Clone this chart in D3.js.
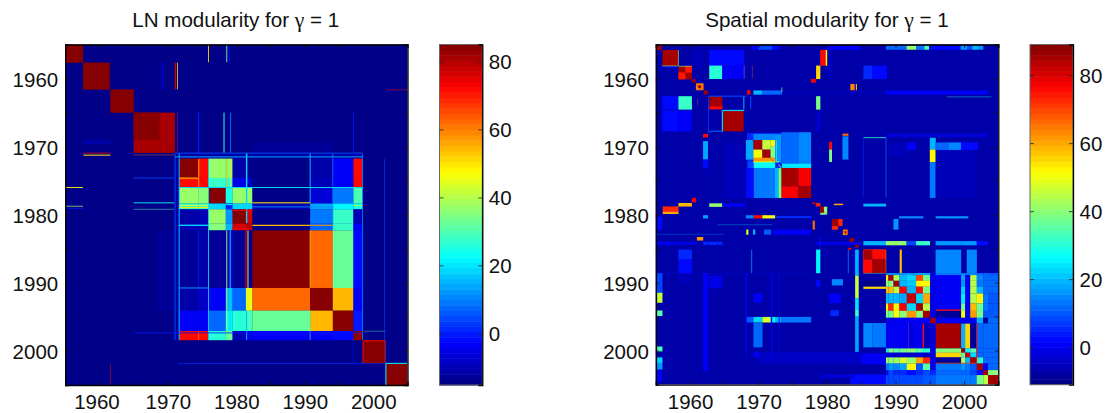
<!DOCTYPE html>
<html><head><meta charset="utf-8">
<script src="https://cdn.jsdelivr.net/npm/d3@7"></script>
<style>html,body{margin:0;padding:0;background:#fff}svg{display:block}text{font-family:"Liberation Sans",Arial,sans-serif;fill:#111}</style>
</head><body><svg id="c" width="1106" height="413"></svg>
<script>
const tickYears=[1960,1965,1970,1975,1980,1985,1990,1995,2000];
const barTicks=[0,20,40,60,80];
const titleLN="LN modularity for ", titleSP="Spatial modularity for ", titleTail=" = 1", gammaSign="γ";
const lnRange=[-15.2,85], spRange=[-11,89];
const lnBackground=-15, spBackground=-7.5;

// LN panel: the large block of communities [x edges, y edges, rows of values]
const lnGridX=[1971.65,1974.5,1975.93,1978.45,1979.45,1981.4,1982.35,1990.78,1994.09,1997.1,1998.43];
const lnGridY=[1971.75,1974.6,1976,1978.35,1979.2,1981.3,1982.3,1990.75,1994.08,1997.07,1998.4];
const lnGrid=[
 [85,72,38,36,-12,-13,-15,-12,-4,72],
 [72,72,28,26,-5,-8,-14,-10,-4,72],
 [38,36,85,24,38,38,-14,-7,9,30],
 [28,28,18,2,18,18,-10,14,22,25],
 [-12,-10,38,12,85,76,-14,9,28,-10],
 [-10,-10,35,15,76,80,-14,8,28,-4],
 [-13,-11,-13,-8,-13,-13,85,62,33,-2],
 [-12,-8,-3,16,8,45,62,85,55,-3],
 [-4,-3,8,22,27,29,33,55,85,-1],
 [72,72,27,32,-10,-5,-3,-4,-2,82]];
// x0,x1,y0,y1,value
const lnBlocks=[
 [1955,1957.6,1955,1957.65,85],[1957.6,1961.6,1957.65,1961.6,85],[1961.6,1965,1961.6,1965,85],
 [1965,1971,1965,1970.9,81],[1965,1968.75,1965,1968.95,85],
 [1998.43,2001.85,1998.4,2001.8,76],[1998.65,2001.75,1998.6,2001.8,85],[2001.85,2005,2001.8,2005,85],
 [1968.75,1969.4,1957.65,1961.6,-11],[1957.65,1961.6,1969,1969.6,-12],
 [1982.35,1994.09,1969.4,1970.9,-13.5],
 [1970.9,1998.43,1970.9,1971.75,-11],[1970.9,1971.65,1971,1998.4,-11],
 [1974.8,1975.6,1974.9,1975.7,85],
 [1968.5,1970.9,1982.3,1994,-13.5]];
// x0,y0,x1,y1,value,width
const lnLines=[
 [1975.93,1955,1975.93,1957.6,52,.9],[1978.6,1955,1978.6,1957.6,33,.9],[1978.95,1955,1978.95,1957.6,-2,1],
 [1971.4,1957.65,1971.4,1961.6,55,.9],[1971.1,1957.65,1971.1,1961.6,78,1.3],
 [1978.2,1965,1978.2,1970.9,28,1],[1979.15,1965,1979.15,1970.9,10,.8],[1974.5,1965,1974.5,1970.9,0,1.2],[1971.4,1965,1971.4,1970.9,70,.4],
 [1955,1976,1957.6,1976,48,.9],[1955,1978.75,1957.6,1978.75,40,.7],[1955,1979.05,1957.6,1979.05,0,.8],
 [1957.65,1970.95,1961.6,1970.95,75,.8],[1957.65,1971.25,1961.6,1971.25,50,1],
 [1965,1978.25,1970.9,1978.25,22,.9],[1965,1974.6,1970.9,1974.6,4,.9],[1965,1979.2,1970.9,1979.2,30,.5],[1965,1971.2,1970.9,1971.2,60,.4],
 [1971.05,1971,1971.05,1998.4,6,.8],[1971.65,1971,1971.65,1998.4,18,.9],
 [1975.93,1971.8,1975.93,1998.4,18,.9],[1974.5,1971.8,1974.5,1976,58,1.1],[1971.65,1974.6,1974.5,1974.6,58,1.1],
 [1974.5,1997.1,1974.5,1998.4,62,1],[1974.5,1982.3,1974.5,1990.7,0,.8],
 [1978.65,1971.8,1978.65,1976,55,.8],[1979.2,1971.8,1979.2,1976,50,.8],[1978.6,1982.3,1978.6,1997.1,40,.9],[1979.1,1982.3,1979.1,1997.1,18,1],
 [1981.5,1971,1981.5,1981.2,18,1.4],[1981.4,1982.3,1981.4,1990.75,72,.9],[1981.7,1982.3,1981.7,1994,50,1],[1981.5,1994.1,1981.5,1998.4,16,1],
 [1990.78,1971,1990.78,1978.3,16,1],[1990.78,1982.3,1990.78,1990.75,54,.9],[1990.78,1994.1,1990.78,1998.4,30,.6],
 [1994.09,1971,1994.09,1982,10,.7],[1997.1,1965,1997.1,1970.9,0,.8],[1997.1,1998.4,1997.1,2001.8,0,.5],[1998.43,1971,1998.43,1998.4,10,.8],
 [1971.65,1976,1998.43,1976,18,1],[1971.65,1990.75,1975.93,1990.75,14,.9],[1971.05,1970.95,1998.43,1970.95,6,.8],[1971.05,1971.5,1998.43,1971.5,16,.9],
 [1971.65,1974.7,1974.5,1974.7,50,.4],[1971.65,1978.65,1975.93,1978.65,42,1],[1971.65,1978.95,1975.93,1978.95,50,1],[1998.43,1978.65,1997.1,1978.65,42,.8],
 [1975.93,1978.5,1979.4,1978.5,18,1.2],[1982.35,1978.25,1990.78,1978.25,48,1],[1982.35,1978.85,1994.09,1978.85,12,.9],
 [1971.65,1981.55,1975.93,1981.55,18,1.4],[1982.35,1981.55,1990.78,1981.55,54,1.3],[1990.78,1981.55,1994.09,1981.55,58,1],
 [1979.45,1979.35,1982.35,1979.35,72,.9],[1979.45,1982.1,1982.35,1982.1,74,1.4],
 [1965,1997.35,1998.4,1997.35,0,.8],[1971.5,2001.85,2001.85,2001.85,2,.7],[1998.6,1997.1,2001.8,1997.1,30,.4],
 [2001.85,2001.82,2005,2001.82,22,1],[2001.85,2001.82,2001.85,2005,22,1],[1961.6,2001.9,1961.6,2005,72,.5],[2001.85,1961.65,2005,1961.65,72,.5],
 [2001.65,1971.8,2001.65,2001.8,4,.6],[1961.55,1957.65,1961.55,1961.6,-14,1]];

// Spatial panel: lower right group of communities
const spGridX=[1988.6,1988.95,1989.7,1990.56,1991.64,1993,1994,1995.05,1995.87,1999.57,2000.16,2000.9,2001.85,2002.8,2003.5,2005];
const spGridY=[1988.6,1988.9,1989.73,1990.6,1991.6,1993.06,1994.15,1995.17,1996,1999.68,2000.3,2001,2001.9,2002.87,2003.6,2005];
const spGrid=[
 [14,17,15,16,16,18,18,0,13,14,13,14,11,11,10],
 [52,85,45,20,23,70,38,-1,1,18,0,45,14,11,11],
 [40,40,85,20,21,52,52,-1,1,16,0,45,13,11,11],
 [58,58,45,75,20,75,38,-1,1,22,0,45,20,12,11],
 [20,20,20,18,82,22,60,-1,1,25,0,45,52,13,10],
 [52,72,52,78,22,85,45,-1,1,38,0,58,36,13,10],
 [38,38,50,40,62,40,85,-1,-9,50,1,62,38,10,10],
 [-1,-1,0,0,0,0,0,85,0,1,1,1,18,-9,11],
 [0,0,0,0,-1,1,-6,-2,85,20,55,-8,11,11,11],
 [25,40,35,38,40,35,30,-1,40,85,25,35,11,11,11],
 [-4,-1,-4,-2,-4,-2,-4,-1,55,35,80,22,11,11,11],
 [42,42,42,48,42,60,72,-1,-9,45,20,85,30,11,11],
 [13,17,15,18,52,10,35,-1,13,17,13,10,85,0,11],
 [2,8,5,5,2,5,8,5,11,12,11,9,3,85,40],
 [9,9,9,9,9,9,10,10,13,13,13,13,38,45,85]];
const spBlocks=[
 // diagonal
 [1955.15,1955.85,1955,1955.8,85],[1955.95,1958.3,1955.8,1958.15,85],
 [1958.3,1960.25,1958.15,1960.1,85],[1959.3,1960.25,1958.15,1959.1,74],[1958.3,1959.3,1959.1,1960.1,74],
 [1960.25,1960.8,1960.1,1960.6,85],[1960.85,1961.95,1960.7,1961.7,64],[1961.2,1961.6,1961,1961.4,85],[1962,1962.55,1961.75,1962.35,85],
 [1962.8,1964.7,1962.6,1964.5,85],[1962.8,1964.7,1964.1,1964.5,75],[1964.75,1967.8,1964.7,1967.75,85],
 // upper left off diagonal
 [1962.8,1964.7,1955.8,1958.1,2],[1964.7,1967.85,1955.8,1958.1,3],[1962.8,1964.7,1958.1,1960.05,31],[1964.7,1967.85,1958.1,1960.05,0],[1967.85,1968.2,1958.1,1960,-4],
 [1955.95,1958.3,1962.6,1964.55,2],[1958.3,1960.25,1962.6,1964.55,32],[1955.95,1958.3,1964.7,1967.75,2],[1958.3,1960.25,1964.7,1967.75,0],
 [1955.95,1958.3,1958.15,1958.5,-3],[1960.3,1961.9,1955.8,1958.1,-5],
 [1979,1979.8,1955.8,1958.1,75],[1979.8,1980,1955.8,1958.1,52],[1978.4,1979,1958.1,1960.05,56],[1977.65,1978.35,1960.05,1960.6,78],
 [1960.25,1960.85,1977.55,1978.2,78],[1956,1958.3,1978.8,1979.6,72],[1956,1958.3,1979.6,1979.9,60],[1958.3,1960.25,1978.3,1978.8,58],
 [1962.8,1964.7,1978.35,1978.85,42],[1964.7,1968,1978.35,1978.85,0],
 [1968.3,1968.8,1961.7,1962.35,78],[1969.25,1970.55,1961.75,1962.35,20],[1970.55,1973.4,1961.75,1962.35,12],[1973.4,1991,1961.85,1962.3,-5],
 [1961.9,1962.6,1968.15,1968.65,75],[1961.9,1962.6,1969.2,1971.9,18],[1961.9,1962.6,1971.9,1973.2,3],
 [1978.4,1979,1962.6,1964.55,38],[1983.4,1984,1960.8,1961.7,63],[1984.2,1984.35,1960.8,1961.7,60],[1961,1961.9,1983.3,1983.8,62],
 [1985.3,1986.6,1958.1,1960.05,6],[1986.6,1988.7,1958.1,1960.05,3],[1958.3,1960.25,1985.15,1986.6,5],[1958.3,1960.25,1986.6,1988.8,2],
 [1988.6,2003.5,1961.75,1962.35,0],[1978.5,1979,1965,1967.7,-3],[1980.2,1980.6,1955.9,1960,-4],
 // top row
 [1969,1972,1955.15,1955.75,0],[1970,1972,1955.15,1955.75,8],[1972,1973,1955.15,1955.75,3],[1980,1985,1955.15,1955.75,0],[1988.6,1991.6,1955.15,1955.75,12],[1991.6,1993,1955.15,1955.75,42],[1993,1994.2,1955.15,1955.75,13],[1994.2,1994.9,1955.15,1955.75,33],[1994.9,1999.5,1955.15,1955.75,3],[1999.5,2000.5,1955.15,1955.75,17],[2000.5,2001.2,1955.15,1955.75,8],[2001.2,2002,1955.15,1955.75,20],[2002,2002.8,1955.15,1955.75,16],
 // 1970 community
 [1968.3,1973.3,1968,1973.15,6],[1968.15,1969.25,1969.05,1971.9,18],[1969.25,1972.4,1968.15,1969.05,15],
 [1969.25,1970.55,1969.05,1970.45,85],[1970.55,1971.75,1969.05,1970.45,46],[1969.25,1970.55,1970.45,1971.65,50],[1970.55,1971.75,1970.45,1971.65,85],
 [1971.75,1972.4,1969.05,1970,52],[1971.75,1972.4,1970,1971.65,40],[1969.25,1972.4,1971.65,1972.25,62],[1972.4,1973.3,1968.2,1972.3,16],
 [1969.25,1972.4,1972.25,1973.15,28],[1968.5,1969.25,1972.25,1973.15,8],
 [1973.3,1975.8,1967.9,1972.5,12],[1975.8,1977.65,1967.9,1972.5,14],[1973.4,1977.65,1972.5,1973.15,24],
 [1973.3,1975.8,1973.15,1975.85,85],[1975.8,1977.65,1973.15,1975.85,78],[1973.3,1975.8,1975.85,1977.55,78],[1975.8,1977.65,1975.85,1977.55,85],
 [1969.25,1972.4,1973.15,1977.55,13],[1968.15,1969.25,1973.15,1977.55,2],[1972.4,1972.9,1973.15,1977.55,20],[1972.9,1973.3,1973.15,1977.55,38],
 [1964.7,1967.85,1969.5,1977.55,-5],[1977.85,1978.3,1978.2,1978.45,80],
 [1980.3,1980.7,1969.3,1970.45,75],[1980.3,1980.7,1970.45,1972.25,38],[1982.25,1983.1,1968.5,1971.9,15],[1982.25,1983.1,1968.1,1968.4,66],
 [1995,1995.85,1968.7,1970.45,20],[1995,1995.85,1970.45,1972.3,52],[1995,1995.85,1972.3,1977.55,13],
 [1995.85,1997.7,1969.4,1970.5,12],[1997.7,1999.55,1969.4,1970.5,15],[1999.55,2002,1969.4,1970.5,2],[1991.6,1993,1969.4,1970.5,1],[1989,1991.6,1969.4,1971.5,-5],[1995.85,2001.8,1970.5,1977.5,-5],
 [1988.6,2003.5,1968.1,1968.6,-3],
 // 1980 community
 [1979,1980,1978.85,1979.75,85],[1979.5,1980,1978.85,1979.75,40],[1979,1979.5,1978.85,1979.75,85],[1979,1980,1979.75,1980,38],[1978.35,1979,1978.3,1978.8,72],
 [1969.25,1970.55,1980.1,1980.55,76],[1970.55,1972.4,1980.1,1980.55,50],[1968.15,1969.25,1980.1,1980.55,15],[1972.4,1977.7,1980.2,1980.5,6],[1961.9,1962.6,1980.1,1980.55,18],[1955.25,1955.95,1980.3,1982.2,2],
 [1980.7,1981.65,1980.65,1981.7,85],[1981.65,1982.25,1980.65,1981.7,72],[1980.7,1981.65,1981.7,1982.2,72],[1981.65,1982.25,1981.7,1982.2,-5],[1981,1982.3,1978.4,1978.6,60],
 [1985.3,1988.6,1978.4,1978.8,20],[1989.7,1990.4,1980.65,1982.2,16],[1990.5,1994.05,1980.25,1980.55,15],[1995.85,2000.6,1980.25,1980.55,16],[1977.9,1978.2,1980.9,1982.2,66],
 [1968.2,1968.5,1982.2,1982.95,48],[1969.2,1969.5,1982.2,1982.95,20],[1970.8,1971.8,1982.2,1982.95,10],[1972.2,1977.6,1982.2,1982.95,1],
 [1982.3,1983,1982.2,1983,64],[1982.6,1982.8,1982.45,1982.75,85],[1983.3,1983.9,1983.45,1984,85],[1984.1,1984.6,1984.2,1984.8,85],[1984.5,1985,1984,1984.3,85],[1983.1,1983.5,1984.9,1985.2,78],
 // 1984 rows and columns
 [1985.3,1988.6,1983.9,1984.5,19],[1988.6,1991.6,1983.9,1984.5,42],[1991.6,1993,1983.9,1984.5,8],[1993,1995,1983.9,1984.5,32],[1995.85,1999.6,1983.9,1984.5,17],[1999.6,2001.85,1983.9,1984.5,16],[2001.85,2003.5,1983.9,1984.5,2],[1955.2,1958,1984,1984.45,0],[1958.2,1961,1984,1984.45,-1],[1961.9,1964.7,1984,1984.45,5],[1978.4,1985,1984.05,1984.4,0],
 [1984.1,1984.6,1985.15,1989,20],[1984.1,1984.6,1989,1992.3,46],[1984.1,1984.6,1992.3,1994,24],[1984.1,1984.6,1994,1995,32],[1984.1,1984.6,1995,2001.8,18],
 [1985.3,1986.6,1985.15,1986.6,85],[1986.6,1988.6,1985.15,1986.6,76],[1985.3,1986.6,1986.6,1988.6,76],[1986.6,1988.6,1986.6,1988.6,85],
 [1995.85,1999.55,1985.15,1988.6,15],[2000.4,2001.85,1985.15,1988.6,15],[1990.6,1990.9,1985.15,1988.6,58],[1978.4,1979,1985.15,1988.6,26],
 // left stripe, lower left
 [1955.2,1955.95,1988.6,1991.5,9],[1955.2,1955.95,1991.5,1992.95,46],[1955.2,1955.95,1994.1,1994.9,35],[1955.2,1955.95,1999.4,2000.1,33],[1955.2,1955.95,2001,2001.8,22],[1955.2,1955.95,2001.8,2002.8,16],[1955.2,1955.95,2002.8,2004.5,1],
 [1961.9,1962.6,1988.6,2003,1],[1958.3,1960.3,1988.6,1990,-5],[1962.8,1964.7,1989,1990.8,-1],
 [1969.25,1970.55,1991.6,1992.9,1],[1969.25,1970.55,1995.95,1999.5,12],[1969.25,1970.55,2000.2,2001,1],
 [1968.2,1969.25,1995.05,1995.85,10],[1969.25,1970.55,1995.05,1995.85,22],[1970.55,1971.75,1995.05,1995.85,48],[1971.75,1972.4,1995.05,1995.85,25],[1972.4,1973.3,1995.05,1995.85,20],[1973.3,1977.65,1995.05,1995.85,13],
 [1980.7,1982.3,1989.5,1990.4,14],[1980.3,1982,1991.6,1993,1],[1980.5,1981.7,1994.05,1994.9,5],
 [1985.3,1986.6,1995.95,1999.5,14],[1986.6,1988.6,1995.95,1999.5,13],[1985.3,1988.6,1989.7,1990.45,-10],[1985.3,1988.6,1990.6,1990.9,55],
 [1978.4,1979,1989.6,1990.6,2],[1985,1988.6,2000.4,2002,0],[1983.4,1988.6,2003.5,2005,3],[1970,1985,2000.2,2001.9,-4],[1979,1984,2003.5,2004,-3]];
const spLines=[
 [1964.72,1964.7,1964.72,1967.8,22,1.2],[1964.72,1964.7,1967.85,1964.7,22,1.2],[1967.85,1962.6,1967.85,1964.6,18,1.1],[1962.7,1962.6,1968.3,1962.6,8,1],[1962.8,1967.75,1964.7,1967.75,12,1],[1962.7,1962.6,1962.7,1968,7,.9],
 [1958.3,1955.8,1958.3,1958.1,40,.6],[1955.95,1958.15,1958.3,1958.15,40,.6],[1958.3,1958.2,1960.2,1958.2,40,.6],[1968.85,1962.6,1968.85,1964.5,8,1],[1967.9,1958.1,1967.9,1960,60,.4],[1969.1,1958.1,1969.1,1960,70,.4],
 [1962.7,1968.3,1962.7,2005,-3,.6],[1961.1,1963,1961.1,1964,60,.3],
 [1973.4,1961.3,1973.4,1962,38,.7],[1985.3,1968.7,1988.6,1968.7,30,.8],[1988.6,1968.7,1988.6,1977.5,15,.6],[1985.3,1968.7,1985.3,1977.5,5,.6],
 [1972.9,1972.7,1973.3,1973.1,50,.9],[1969.2,1972.25,1973,1972.25,52,.8],[1972.6,1969,1972.6,1972.2,30,.7],
 [1984,1985.2,1984,1988.6,2,.8],[1983.1,1985.2,1983.1,1988.6,20,.6],[1979,1983,1979,1985,2,1],
 [1969,1985.2,1969,1988.6,25,.5],[1964,1984,1964,1985,1,.7],[1955,1982.9,1965,1982.9,20,.3],[1964,1981.5,1972,1981.5,25,.3],
 [1995.85,1994.05,1999.55,1994.05,76,1.4],[1994.05,1996,1994.05,1999.6,76,1.4],[2001.85,1996,2001.85,2001.7,76,1],[1995.85,2001.85,2001.85,2001.85,70,.7],
 [1985.3,1985.2,1985.3,1988.6,72,.6],[1985.3,1985.15,1988.6,1985.15,72,.6],[1988.6,1985.2,1988.6,1988.6,60,.4],
 [1985.3,1988.65,1988.6,1988.65,30,.4],[1991.9,1995.9,1991.9,1999.6,65,.3],[1955,1988.65,1977,1988.65,4,.3],[1968.2,1988.6,1968.2,2001,3,1],[1971.9,1988.6,1971.9,2001,0,1.2],[1973,1988.6,1973,2000,0,1],
 [1999.57,1996,2001.8,1996,-3,.5],[1997.5,1962.7,2004,1962.7,30,.4]];

// jet colormap with 64 levels
const jetStops=["#000080","#0000ff","#00ffff","#ffff00","#ff0000","#800000"];
const jet=d3.scaleLinear().domain([0,.125,.375,.625,.875,1]).range(jetStops).interpolate(d3.interpolateRgb);
const levels=d3.range(64).map(i=>jet((i+.5)/64));

const svg=d3.select("#c");
const defs=svg.append("defs");
defs.append("filter").attr("id","soft").attr("x",0).attr("y",0).attr("width",1).attr("height",1).attr("color-interpolation-filters","sRGB")
 .append("feGaussianBlur").attr("stdDeviation",.4);

function panel(o){
 const x=d3.scaleLinear().domain([1955,2005]).range(o.xr), y=d3.scaleLinear().domain([1955,2005]).range(o.yr);
 const color=d3.scaleQuantize().domain(o.range).range(levels);
 const cp="clip"+o.xr[0];
 defs.append("clipPath").attr("id",cp).append("rect").attr("x",o.xr[0]).attr("y",o.yr[0]).attr("width",o.xr[1]-o.xr[0]).attr("height",o.yr[1]-o.yr[0]);
 const outer=svg.append("g").attr("clip-path",`url(#${cp})`);
 const g=outer.append("g").attr("filter","url(#soft)");
 g.append("rect").attr("x",o.xr[0]-2).attr("y",o.yr[0]-2).attr("width",o.xr[1]-o.xr[0]+4).attr("height",o.yr[1]-o.yr[0]+4).attr("fill",color(o.bg));
 const cells=[];
 o.grid.forEach((r,i)=>r.forEach((v,j)=>cells.push([o.gx[j],o.gx[j+1],o.gy[i],o.gy[i+1],v])));
 const all=o.blocks.concat(cells);
 g.selectAll("rect.b").data(all).join("rect").attr("class","b")
  .attr("x",d=>x(d[0])).attr("width",d=>x(d[1])-x(d[0])+.15).attr("y",d=>y(d[2])).attr("height",d=>y(d[3])-y(d[2])+.15).attr("fill",d=>color(d[4]));
 g.selectAll("line.l").data(o.lines).join("line").attr("class","l")
  .attr("x1",d=>x(d[0])).attr("y1",d=>y(d[1])).attr("x2",d=>x(d[2])).attr("y2",d=>y(d[3])).attr("stroke",d=>color(d[4])).attr("stroke-width",d=>d[5]);
 g.append("line").attr("x1",x(1955)).attr("y1",y(1955)).attr("x2",x(2005)).attr("y2",y(2005)).attr("stroke","#000050").attr("stroke-width",.5).attr("opacity",.45);
 // axes
 const fmt=d=>d%10===0?d:"";
 const axes=svg.append("g");
 const A=(gen,tx,ty)=>axes.append("g").attr("transform",`translate(${tx},${ty})`).call(gen);
 const bottom=A(d3.axisBottom(x).tickValues(tickYears).tickSize(-3.5).tickFormat(fmt),0,o.yr[1]);
 A(d3.axisTop(x).tickValues(tickYears).tickSize(-3.5).tickFormat(""),0,o.yr[0]);
 const left=A(d3.axisLeft(y).tickValues(tickYears).tickSize(-3.5).tickFormat(fmt),o.xr[0],0);
 A(d3.axisRight(y).tickValues(tickYears).tickSize(-3.5).tickFormat(""),o.xr[1],0);
 axes.selectAll(".domain").attr("stroke","#000").attr("stroke-width",1.3);
 axes.selectAll(".tick line").attr("stroke","#111").attr("stroke-width",.8);
 bottom.selectAll("text").attr("dy",null).attr("y",408.7-o.yr[1]).attr("font-size",20.5).attr("dx",d=>d===1960?o.shift:0);
 left.selectAll("text").attr("x",-7).attr("dy",null).attr("y",8).attr("font-size",20.5);
 const t=svg.append("text").attr("x",o.titleX).attr("y",27).attr("text-anchor","middle").attr("font-size",o.titleSize);
 t.append("tspan").text(o.title);
 t.append("tspan").attr("font-family","'Liberation Serif',serif").attr("font-size",o.titleSize+1).text(gammaSign);
 t.append("tspan").text(titleTail);
 // colour bar
 const cy=d3.scaleLinear().domain(o.range).range([o.yr[1],o.yr[0]]);
 const step=(o.range[1]-o.range[0])/64;
 svg.append("g").selectAll("rect").data(levels).join("rect")
  .attr("x",o.bx[0]).attr("width",o.bx[1]-o.bx[0])
  .attr("y",(d,i)=>cy(o.range[0]+(i+1)*step)).attr("height",(o.yr[1]-o.yr[0])/64+.5).attr("fill",d=>d);
 svg.append("rect").attr("x",o.bx[0]).attr("y",o.yr[0]).attr("width",o.bx[1]-o.bx[0]).attr("height",o.yr[1]-o.yr[0]).attr("fill","none").attr("stroke","#666").attr("stroke-width",1);
 const ax=svg.append("g").attr("transform",`translate(${o.bx[1]},0)`).call(d3.axisRight(cy).tickValues(barTicks).tickSize(-4));
 ax.select(".domain").attr("stroke","#000").attr("stroke-width",1.3);
 ax.selectAll("line").attr("stroke","#222").attr("stroke-width",.8);
 ax.selectAll("text").attr("x",6.5).attr("dy",null).attr("y",7.5).attr("font-size",20.5);
 const ax2=svg.append("g").attr("transform",`translate(${o.bx[0]},0)`).call(d3.axisLeft(cy).tickValues(barTicks).tickSize(-4).tickFormat(""));
 ax2.select(".domain").remove();
 ax2.selectAll("line").attr("stroke","#222").attr("stroke-width",.8);
}
panel({xr:[65.2,407.5],yr:[44.5,385],range:lnRange,bg:lnBackground,gx:lnGridX,gy:lnGridY,grid:lnGrid,blocks:lnBlocks,lines:lnLines,
 title:titleLN,titleX:235.7,titleSize:20.6,bx:[439.5,482.3],shift:-3});
panel({xr:[655.8,998.3],yr:[44.5,384.6],range:spRange,bg:spBackground,gx:spGridX,gy:spGridY,grid:spGrid,blocks:spBlocks,lines:spLines,
 title:titleSP,titleX:827,titleSize:20.6,bx:[1030,1073],shift:0});
</script></body></html>
